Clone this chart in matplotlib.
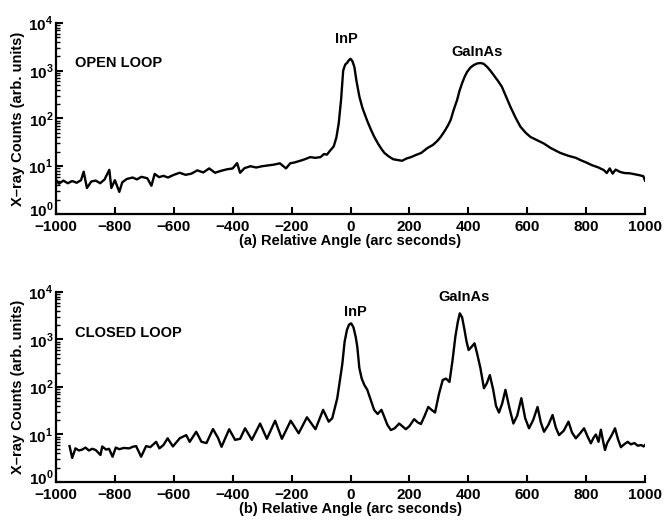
import numpy as np
import matplotlib
matplotlib.use("Agg")
import matplotlib.pyplot as plt
from matplotlib.ticker import LogLocator, NullFormatter
from matplotlib.transforms import ScaledTranslation

plt.rcParams['font.family'] = ['Liberation Sans', 'DejaVu Sans']
plt.rcParams['font.weight'] = 'bold'
plt.rcParams['axes.labelweight'] = 'bold'
plt.rcParams['mathtext.fontset'] = 'custom'
plt.rcParams['mathtext.rm'] = 'Liberation Sans:bold'
plt.rcParams['mathtext.bf'] = 'Liberation Sans:bold'

# (a) open loop scan
open_angle = [
    -1000, -990, -975, -960, -945, -930, -915, -906, -895, -880,
    -865, -850, -835, -819, -812, -800, -785, -775, -760, -740,
    -725, -710, -690, -676, -665, -650, -635, -620, -600, -580,
    -560, -540, -520, -500, -480, -460, -440, -420, -400, -385,
    -375, -360, -340, -320, -300, -280, -260, -240, -219, -205,
    -190, -171, -155, -137, -120, -102, -90, -80, -70, -57,
    -48, -40, -32, -25, -18, -12, -6, 0, 6, 13,
    20, 30, 40, 47, 58, 70, 80, 93, 105, 115,
    130, 145, 160, 175, 190, 205, 220, 240, 261, 280,
    295, 306, 320, 330, 340, 350, 362, 370, 379, 388,
    396, 408, 419, 430, 441, 452, 464, 475, 486, 500,
    514, 528, 543, 560, 577, 595, 611, 630, 656, 680,
    712, 740, 765, 780, 800, 820, 840, 860, 870, 880,
    890, 900, 915, 930, 949, 965, 980, 994, 1000]
open_counts = [
    5.2, 4.3, 5.0, 4.4, 4.9, 4.5, 5.1, 7.7, 3.5, 4.8,
    5.0, 4.4, 5.3, 8.4, 3.5, 5.1, 2.9, 4.6, 5.4, 5.8,
    5.3, 6.0, 5.6, 3.9, 6.9, 5.9, 6.3, 5.8, 6.6, 7.3,
    6.6, 7.0, 8.2, 7.4, 9.0, 7.3, 8.0, 8.6, 9.0, 11.6,
    7.3, 9.1, 10.0, 9.4, 10.0, 10.4, 10.8, 11.5, 9.0, 11.5,
    12.0, 13.0, 14.0, 15.5, 15.0, 15.5, 18.0, 17.5, 21.0, 26.0,
    40, 80, 250, 1000, 1350, 1450, 1650, 1780, 1600, 1210,
    620, 288, 170, 129, 85, 57, 42, 30, 23, 19,
    16, 14, 13.5, 13, 14.5, 15.5, 17, 19, 24, 28,
    34, 41, 55, 70, 93, 150, 245, 380, 550, 760,
    950, 1180, 1320, 1420, 1450, 1400, 1200, 1000, 810, 620,
    460, 290, 175, 105, 67, 50, 41, 36, 30, 24,
    19, 16.5, 15, 13.5, 12, 10.5, 9.5, 8.3, 7.2, 9.0,
    7.0, 8.5, 7.6, 7.2, 7.1, 6.8, 6.5, 6.2, 5.0]

# (b) closed loop scan
closed_angle = [
    -954, -945, -934, -922, -911, -900, -888, -877, -865, -849,
    -843, -830, -820, -808, -797, -785, -770, -751, -740, -728,
    -711, -694, -680, -660, -649, -635, -621, -603, -590, -580,
    -558, -546, -524, -506, -489, -467, -450, -438, -412, -392,
    -375, -358, -335, -307, -284, -256, -233, -203, -176, -148,
    -119, -93, -74, -62, -45, -36, -28, -20, -12, -5,
    2, 10, 18, 23,
    30, 38, 47, 57, 68, 80, 92, 105, 114, 125,
    137, 150, 165, 178, 188, 200, 216, 228, 239, 252,
    264, 275, 287, 300, 313, 324, 336, 346, 356, 364,
    371, 379, 387, 394, 401, 411, 421, 430, 441, 453,
    463, 473, 484, 494, 504, 515, 526, 540, 553, 566,
    580, 593, 606, 620, 635, 646, 657, 672, 686, 697,
    708, 724, 740, 752, 765, 779, 793, 805, 816, 825,
    833, 842, 850, 857, 864, 871, 879, 888, 898, 908,
    918, 929, 941, 952, 964, 975, 987, 995, 1000]
closed_counts = [
    5.7, 3.2, 5.1, 4.6, 4.8, 5.3, 4.6, 5.0, 4.7, 3.7,
    5.6, 4.8, 5.0, 3.4, 5.3, 4.9, 5.2, 5.1, 5.5, 5.7,
    3.4, 5.7, 5.4, 7.0, 5.1, 6.0, 8.3, 5.6, 7.0, 8.3,
    9.7, 7.0, 11.4, 7.0, 6.6, 13.0, 8.5, 5.5, 12.9, 7.7,
    8.1, 13.5, 7.7, 17.0, 8.1, 19.5, 8.1, 19.5, 10.6, 23.0,
    12.9, 33, 18.6, 22, 58, 140, 300, 900, 1600, 2050,
    2190, 1800, 1100, 700,
    250, 150, 110, 87, 55, 33, 27, 33, 24, 16,
    12.4, 13.5, 17, 14.5, 12.9, 15, 21, 18, 16.6, 25,
    38, 33, 29, 70, 140, 150, 128, 350, 1150, 2300,
    3550, 2900, 1590, 900, 600, 700, 830, 500, 250, 94,
    120, 178, 90, 40, 29, 45, 87, 35, 17, 25,
    58, 22, 13.5, 20, 38, 18, 11.4, 16, 25.7, 14,
    9.7, 12, 18.6, 11, 8.3, 10.5, 13.5, 9, 6.5, 8.5,
    10, 7, 12.6, 7.5, 4.7, 6.5, 8, 10, 13.5, 8,
    5.4, 6.2, 7.0, 6.2, 6.6, 5.8, 6.0, 5.6, 6.0]

x_ticks = list(range(-1000, 1001, 200))
y_ticks = [1, 10, 100, 1000, 10000]
y_tick_labels = [r'$10^{0}$', r'$10^{1}$', r'$10^{2}$', r'$10^{3}$', r'$10^{4}$']

panels = [
    (open_angle, open_counts, "OPEN LOOP", "(a) Relative Angle (arc seconds)",
     [(-15, 4600, "InP"), (430, 2500, "GaInAs")], 1450),
    (closed_angle, closed_counts, "CLOSED LOOP", "(b) Relative Angle (arc seconds)",
     [(17, 3830, "InP"), (384, 7900, "GaInAs")], 1380),
]

fig = plt.figure(figsize=(6.65, 5.21), dpi=100)
rects = [[0.0842, 0.5893, 0.8858, 0.3666], [0.0842, 0.0749, 0.8858, 0.3647]]

for rect, (xs, ys, mode, xlabel, peaks, mode_y) in zip(rects, panels):
    ax = fig.add_axes(rect)
    ax.plot(xs, ys, color='black', lw=1.7)
    ax.set_yscale('log')
    ax.set_xlim(-1000, 1000)
    ax.set_ylim(1, 10000)

    ax.spines['top'].set_visible(False)
    ax.spines['right'].set_visible(False)
    ax.spines['left'].set_linewidth(1.6)
    ax.spines['bottom'].set_linewidth(1.6)

    ax.set_xticks(x_ticks)
    ax.set_xticklabels([str(t).replace('-', '\u2212') for t in x_ticks])
    ax.set_yticks(y_ticks)
    ax.set_yticklabels(y_tick_labels)
    ax.yaxis.set_minor_locator(LogLocator(base=10, subs=np.arange(2, 10)))
    ax.yaxis.set_minor_formatter(NullFormatter())
    ax.tick_params(which='major', direction='in', length=5, width=1.5,
                   labelsize=11, pad=2)
    ax.tick_params(axis='x', which='major', pad=4)
    ax.tick_params(which='minor', direction='in', length=3, width=1.0)

    # lift the 10^0 label a little so it clears the -1000 label
    lab0 = ax.yaxis.get_major_ticks()[0].label1
    lab0.set_transform(lab0.get_transform()
                       + ScaledTranslation(0, 4 / 72, fig.dpi_scale_trans))

    ax.set_xlabel(xlabel, fontsize=10.5, labelpad=0)
    ax.set_ylabel("X\u2013ray Counts (arb. units)", fontsize=10.5, labelpad=2)

    ax.text(-935, mode_y, mode, fontsize=10.5, ha='left', va='center')
    for px, py, name in peaks:
        ax.text(px, py, name, fontsize=10.5, ha='center', va='center')

fig.savefig("out.png", dpi=100)
